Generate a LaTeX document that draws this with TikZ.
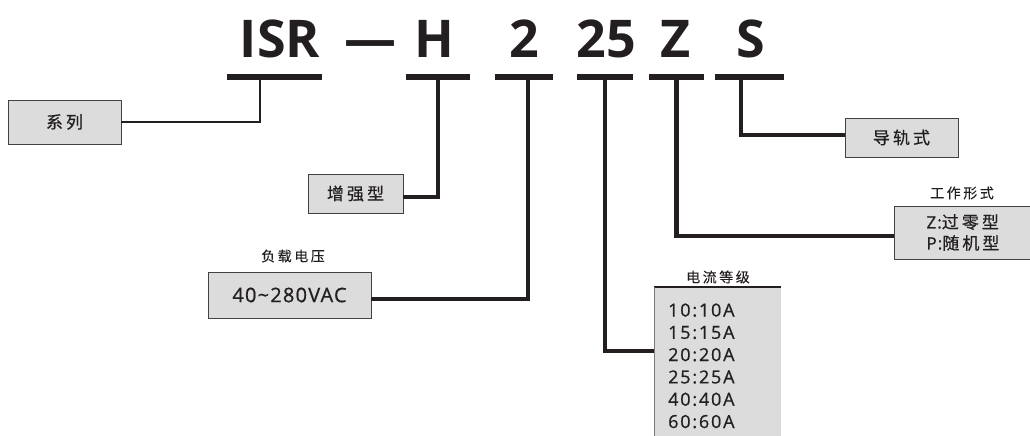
\documentclass[tikz,border=0pt]{standalone}
\usepackage{fontspec}
\setmainfont{Open Sans}
\newfontfamily\cjk{Noto Sans CJK SC}[LetterSpace=18,FakeBold=0.6]
\newfontfamily\cjklbl{Noto Sans CJK SC}[LetterSpace=18,FakeBold=0.2]
\newfontfamily\latsp{Open Sans}[LetterSpace=6,FakeBold=0.8]
\newfontfamily\latcur{Open Sans}[LetterSpace=10,FakeBold=0.8]
\usetikzlibrary{calc}
\definecolor{boxgray}{RGB}{220,220,220}
\definecolor{ink}{RGB}{35,31,32}
\begin{document}
\begin{tikzpicture}[x=1pt,y=-1pt,
  box/.style={draw=ink!85, line width=0.9pt, fill=boxgray, inner sep=0pt, text=ink},
  bar/.style={fill=ink, inner sep=0pt, minimum height=6pt},
  ttl/.style={anchor=base, inner sep=0pt, text=ink, font=\fontsize{52}{52}\selectfont\bfseries},
  lbl/.style={inner sep=0pt, text=ink, font=\fontsize{14}{16}\selectfont\cjklbl},
  conn/.style={draw=ink, line width=4.5pt, line join=miter},
  connthin/.style={draw=ink, line width=2.5pt, line join=miter},
  cur/.style={anchor=base west, inner sep=0pt, text=ink, font=\fontsize{18}{20}\selectfont\latcur}
]
\useasboundingbox (0,0) rectangle (1030,436);

% title
\node[ttl] (tISR) at (280,57) {ISR};
\node[ttl] (tdash) at (370.5,57) {—};
\node[ttl] (tH) at (434,57) {H};
\node[ttl] (t2) at (524,57) {2};
\node[ttl] (t25) at (606,57) {25};
\node[ttl] (tZ) at (676,57) {Z};
\node[ttl] (tS) at (751,57) {S};

% bars
\node[bar, minimum width=95pt] (bISR) at (274.5,76.5) {};
\node[bar, minimum width=64pt] (bH) at (438,76.5) {};
\node[bar, minimum width=58pt] (b2) at (524,76.5) {};
\node[bar, minimum width=56pt] (b25) at (605,76.5) {};
\node[bar, minimum width=55pt] (bZ) at (676.5,76.5) {};
\node[bar, minimum width=69pt] (bS) at (749.5,76.5) {};

% boxes
\node[box, minimum width=113pt, minimum height=44pt, font=\fontsize{17}{20}\selectfont\cjk] (xilie) at (64.5,122) {系列};
\node[box, minimum width=95pt, minimum height=39pt, font=\fontsize{17}{20}\selectfont\cjk] (zq) at (355.5,193.5) {增强型};
\node[box, minimum width=163pt, minimum height=46pt, font=\fontsize{20}{22}\selectfont\latsp] (volt) at (289.5,295) {40\char"007E 280VAC};
\node[box, minimum width=113pt, minimum height=39pt, font=\fontsize{17}{20}\selectfont\cjk] (dg) at (901.5,137.5) {导轨式};
\node[box, minimum width=138pt, minimum height=53pt, align=left, font=\fontsize{17}{21}\selectfont] (mode) at (963,232.5) {{\latsp Z:}{\cjk 过零型}\\{\latsp P:}{\cjk 随机型}};

% current box (open at right and bottom)
\node[fill=boxgray, inner sep=0pt, minimum width=127pt, minimum height=152pt, anchor=north west] (curbox) at (654,287) {};
\draw[ink, line width=2pt] (curbox.north west) -- (curbox.north east);
\draw[ink!60, line width=1pt] (curbox.north west) -- (curbox.south west);
\node[cur] (c1) at (668,316.5) {10:10A};
\node[cur] (c2) at (668,338.8) {15:15A};
\node[cur] (c3) at (668,361.1) {20:20A};
\node[cur] (c4) at (668,383.4) {25:25A};
\node[cur] (c5) at (668,405.7) {40:40A};
\node[cur] (c6) at (668,428) {60:60A};

% labels
\node[lbl] (lv) at (293,256) {负载电压};
\node[lbl] (lc) at (718,277) {电流等级};
\node[lbl] (lm) at (962,193) {工作形式};

% connectors
\coordinate (vISR) at ($(bISR.center)+(-14.5,0)$);
\coordinate (v2) at ($(b2.center)+(4,0)$);
\coordinate (vS) at ($(bS.center)+(-8.5,0)$);
\coordinate (cin) at ($(curbox.north west)+(0,64)$);
\draw[connthin] (vISR) |- (xilie.east);
\draw[conn] (bH.center) |- ($(zq.east)+(0,3.5)$);
\draw[conn] (v2) |- ($(volt.east)+(0,4)$);
\draw[conn] (b25.center) |- (cin);
\draw[conn] (bZ.center) |- ($(mode.west)+(0,3.5)$);
\draw[conn] (vS) |- ($(dg.west)+(0,-2.5)$);
\end{tikzpicture}
\end{document}
